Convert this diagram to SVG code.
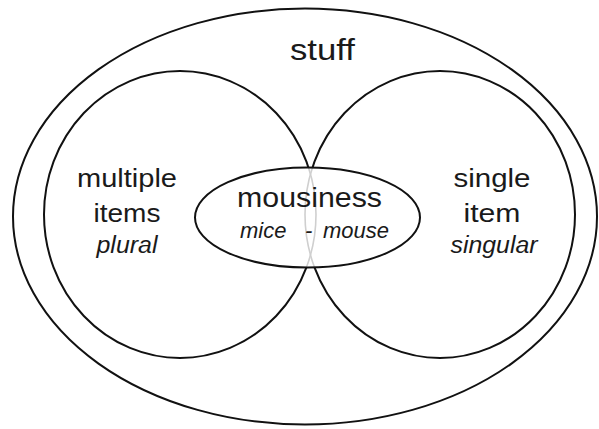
<svg xmlns="http://www.w3.org/2000/svg" width="599" height="429" viewBox="0 0 599 429">
<style>
.ln{fill:none;stroke:#111;stroke-width:2}
.gr{fill:none;stroke:#cfcfcf;stroke-width:1.6}
.t{font-family:"Liberation Sans",Arial,sans-serif;fill:#1a1a1a;font-size:26px;text-anchor:middle}
.i{font-style:italic;font-size:23px}
</style>
<defs>
<mask id="outsideMid" maskUnits="userSpaceOnUse" x="0" y="0" width="599" height="429">
<rect x="0" y="0" width="599" height="429" fill="#fff"/>
<ellipse cx="307.5" cy="217.5" rx="112.5" ry="50" fill="#000"/>
</mask>
<clipPath id="insideMid">
<ellipse cx="307.5" cy="217.5" rx="112.5" ry="50"/>
</clipPath>
</defs>
<rect width="599" height="429" fill="#fff"/>
<g id="stuff">
<ellipse class="ln" cx="305" cy="216.5" rx="292" ry="208"/>
<text class="t" x="322.5" y="60" font-size="29" style="font-size:29px" textLength="65" lengthAdjust="spacingAndGlyphs">stuff</text>
</g>
<g id="multiple">
<ellipse class="ln" cx="180" cy="214.5" rx="136" ry="143.5" mask="url(#outsideMid)"/>
<ellipse class="gr" cx="180" cy="214.5" rx="136" ry="143.5" clip-path="url(#insideMid)"/>
<text class="t" x="127" y="187" textLength="100" lengthAdjust="spacingAndGlyphs">multiple</text>
<text class="t" x="127" y="222" textLength="67" lengthAdjust="spacingAndGlyphs">items</text>
<text class="t i" x="127" y="253" textLength="61" lengthAdjust="spacingAndGlyphs">plural</text>
</g>
<g id="single">
<ellipse class="ln" cx="440" cy="214.5" rx="135" ry="143.5" mask="url(#outsideMid)"/>
<ellipse class="gr" cx="440" cy="214.5" rx="135" ry="143.5" clip-path="url(#insideMid)"/>
<text class="t" x="492" y="187" textLength="77" lengthAdjust="spacingAndGlyphs">single</text>
<text class="t" x="492" y="222" textLength="57" lengthAdjust="spacingAndGlyphs">item</text>
<text class="t i" x="494" y="253" textLength="87" lengthAdjust="spacingAndGlyphs">singular</text>
</g>
<g id="mousiness">
<ellipse class="ln" cx="307.5" cy="217.5" rx="112.5" ry="50"/>
<text class="t" x="309.5" y="207" style="font-size:27px" textLength="145" lengthAdjust="spacingAndGlyphs">mousiness</text>
<text class="t i" y="238" style="font-size:22px;text-anchor:start"><tspan x="240">mice</tspan><tspan x="305">-</tspan><tspan x="323">mouse</tspan></text>
</g>
<g id="connectors"></g>
</svg>
